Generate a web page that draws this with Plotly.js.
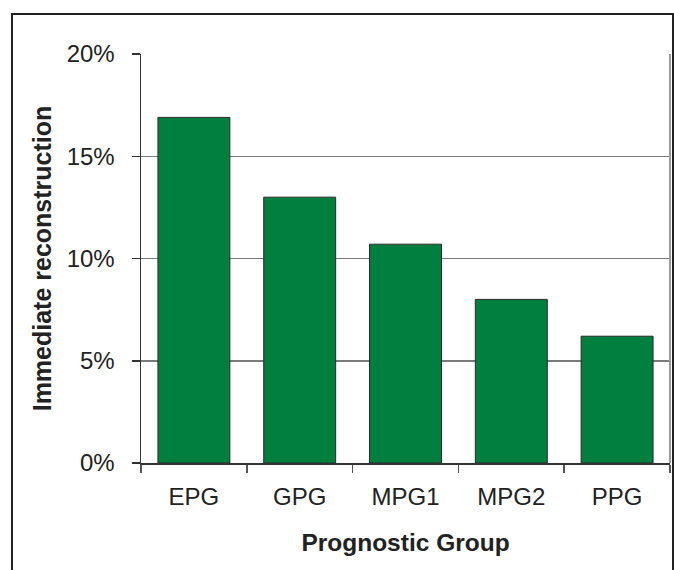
<!DOCTYPE html>
<html>
<head>
<meta charset="utf-8">
<script src="https://cdn.plot.ly/plotly-3.0.1.min.js"></script>
<style>
  html, body { margin: 0; padding: 0; background: #fff; }
  #chart { width: 674px; height: 570px; }
</style>
</head>
<body>
<div id="chart"></div>
<script>
const categories = ["EPG", "GPG", "MPG1", "MPG2", "PPG"];
const values = [16.9, 13.0, 10.7, 8.0, 6.2];
const yTickVals = [0, 5, 10, 15, 20];
const yTickText = ["0%", "5%", "10%", "15%", "20%"];
const xTitle = "Prognostic Group";
const yTitle = "Immediate reconstruction";

const FONT = '"Liberation Sans", Arial, Helvetica, sans-serif';

const trace = {
  type: 'bar',
  x: categories,
  y: values,
  marker: { color: '#007F3F', line: { color: '#2a2a2a', width: 1 } },
  hoverinfo: 'x+y'
};

const layout = {
  width: 674,
  height: 570,
  margin: { l: 141, r: 4, t: 54, b: 107 },
  paper_bgcolor: '#ffffff',
  plot_bgcolor: '#ffffff',
  font: { family: FONT, color: '#222222', size: 24 },
  showlegend: false,
  bargap: 0.32,
  xaxis: {
    type: 'category',
    showline: true, linecolor: '#333333', linewidth: 1.5,
    ticks: 'outside', tickson: 'boundaries', ticklen: 8, tickcolor: '#555555', tickwidth: 1.5,
    ticklabelstandoff: 12,
    tickfont: { size: 24 },
    showgrid: false,
    title: { text: xTitle, font: { size: 24.5, family: FONT, weight: 'bold' }, standoff: 24 },
    automargin: false
  },
  yaxis: {
    range: [0, 20],
    tickvals: yTickVals, ticktext: yTickText,
    showline: true, linecolor: '#333333', linewidth: 1.5,
    ticks: 'outside', ticklen: 8, tickcolor: '#333333', tickwidth: 1.5,
    ticklabelstandoff: 12,
    tickfont: { size: 24 },
    showgrid: true, gridcolor: '#7a7a7a', gridwidth: 1.5,
    zeroline: false,
    title: { text: yTitle, font: { size: 25, family: FONT, weight: 'bold' }, standoff: 8 },
    automargin: false
  },
  shapes: [
    { type: 'line', xref: 'paper', yref: 'paper', x0: 1, x1: 1, y0: 0, y1: 1,
      line: { color: '#9a9a9a', width: 2 } },
    { type: 'path', xref: 'paper', yref: 'paper',
      path: 'M -0.2439 -0.3 L -0.2439 1.0978 L 1.0057 1.0978 L 1.0057 -0.3',
      line: { color: '#222222', width: 2 } }
  ]
};

Plotly.newPlot('chart', [trace], layout, { displayModeBar: false, staticPlot: true });
</script>
</body>
</html>
